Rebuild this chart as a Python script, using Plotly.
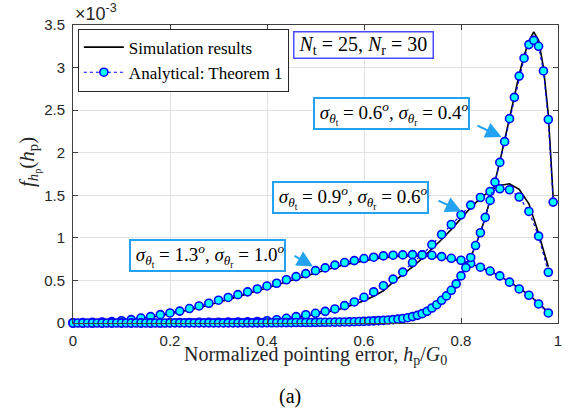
import plotly.graph_objects as go

# x grids
x_coarse = [0.00, 0.02, 0.04, 0.06, 0.08, 0.10, 0.12, 0.14, 0.16, 0.18,
            0.20, 0.22, 0.24, 0.26, 0.28, 0.30, 0.32, 0.34, 0.36, 0.38,
            0.40, 0.42, 0.44, 0.46, 0.48, 0.50, 0.52, 0.54, 0.56, 0.58,
            0.60, 0.62, 0.64, 0.66, 0.68, 0.70, 0.72, 0.74, 0.76, 0.78,
            0.80, 0.82, 0.84, 0.86, 0.88, 0.90, 0.92, 0.94, 0.96, 0.98]
x_fine = [0.00, 0.01, 0.02, 0.03, 0.04, 0.05, 0.06, 0.07, 0.08, 0.09,
          0.10, 0.11, 0.12, 0.13, 0.14, 0.15, 0.16, 0.17, 0.18, 0.19,
          0.20, 0.21, 0.22, 0.23, 0.24, 0.25, 0.26, 0.27, 0.28, 0.29,
          0.30, 0.31, 0.32, 0.33, 0.34, 0.35, 0.36, 0.37, 0.38, 0.39,
          0.40, 0.41, 0.42, 0.43, 0.44, 0.45, 0.46, 0.47, 0.48, 0.49,
          0.50, 0.51, 0.52, 0.53, 0.54, 0.55, 0.56, 0.57, 0.58, 0.59,
          0.60, 0.61, 0.62, 0.63, 0.64, 0.65, 0.66, 0.67, 0.68, 0.69,
          0.70, 0.71, 0.72, 0.73, 0.74, 0.75, 0.76, 0.77, 0.78, 0.79,
          0.80, 0.81, 0.82, 0.83, 0.84, 0.85, 0.86, 0.87, 0.88, 0.89,
          0.90, 0.91, 0.92, 0.93, 0.94, 0.95, 0.96, 0.97, 0.98, 0.99]

# values in units of 1e-3
# sigma_t = 1.3, sigma_r = 1.0
broad_ana = [0.003, 0.005, 0.008, 0.012, 0.017, 0.027, 0.040, 0.058, 0.075, 0.098,
             0.118, 0.140, 0.170, 0.200, 0.232, 0.268, 0.300, 0.333, 0.366, 0.400,
             0.435, 0.467, 0.508, 0.545, 0.580, 0.615, 0.647, 0.680, 0.710, 0.733,
             0.757, 0.773, 0.788, 0.796, 0.800, 0.803, 0.800, 0.795, 0.780, 0.760,
             0.737, 0.700, 0.655, 0.610, 0.553, 0.480, 0.400, 0.326, 0.224, 0.118]
broad_sim = [0.015, 0.016, 0.018, 0.021, 0.026, 0.033, 0.043, 0.055, 0.070, 0.087,
             0.107, 0.128, 0.153, 0.180, 0.210, 0.243, 0.276, 0.310, 0.345, 0.380,
             0.415, 0.450, 0.487, 0.522, 0.557, 0.592, 0.625, 0.656, 0.685, 0.710,
             0.733, 0.752, 0.768, 0.780, 0.787, 0.790, 0.788, 0.782, 0.770, 0.752,
             0.728, 0.695, 0.655, 0.608, 0.552, 0.485, 0.410, 0.330, 0.235, 0.125]
# sigma_t = 0.9, sigma_r = 0.6
mid_ana = [0.000, 0.000, 0.000, 0.000, 0.001, 0.001, 0.001, 0.002, 0.002, 0.003,
           0.004, 0.005, 0.006, 0.007, 0.008, 0.009, 0.010, 0.012, 0.014, 0.018,
           0.027, 0.039, 0.055, 0.075, 0.097, 0.114, 0.137, 0.165, 0.204, 0.247,
           0.302, 0.365, 0.438, 0.515, 0.598, 0.710, 0.800, 0.920, 1.040, 1.157,
           1.270, 1.385, 1.474, 1.545, 1.576, 1.565, 1.480, 1.310, 1.020, 0.596]
mid_sim = [0.000, 0.000, 0.000, 0.000, 0.001, 0.001, 0.001, 0.002, 0.002, 0.003,
           0.004, 0.005, 0.006, 0.007, 0.008, 0.009, 0.010, 0.012, 0.014, 0.017,
           0.025, 0.035, 0.048, 0.063, 0.080, 0.100, 0.122, 0.148, 0.180, 0.218,
           0.262, 0.315, 0.378, 0.480, 0.565, 0.660, 0.760, 0.865, 0.980, 1.100,
           1.225, 1.355, 1.465, 1.555, 1.615, 1.635, 1.570, 1.400, 1.050, 0.660]
# sigma_t = 0.6, sigma_r = 0.4
narrow_ana = [0.000, 0.000, 0.000, 0.000, 0.000, 0.000, 0.000, 0.000, 0.000, 0.000,
              0.000, 0.000, 0.000, 0.000, 0.000, 0.000, 0.000, 0.000, 0.000, 0.000,
              0.001, 0.001, 0.001, 0.001, 0.001, 0.001, 0.001, 0.001, 0.001, 0.001,
              0.001, 0.001, 0.001, 0.001, 0.001, 0.002, 0.002, 0.002, 0.002, 0.002,
              0.003, 0.003, 0.003, 0.004, 0.004, 0.004, 0.005, 0.005, 0.006, 0.006,
              0.007, 0.008, 0.008, 0.009, 0.010, 0.011, 0.012, 0.013, 0.015, 0.017,
              0.019, 0.022, 0.025, 0.028, 0.031, 0.035, 0.040, 0.045, 0.052, 0.062,
              0.075, 0.090, 0.110, 0.137, 0.176, 0.215, 0.267, 0.318, 0.384, 0.460,
              0.553, 0.650, 0.770, 0.910, 1.060, 1.240, 1.440, 1.655, 1.886, 2.130,
              2.400, 2.650, 2.900, 3.110, 3.270, 3.320, 3.250, 2.960, 2.390, 1.420]
narrow_sim = [0.000, 0.000, 0.000, 0.000, 0.000, 0.000, 0.000, 0.000, 0.000, 0.000,
              0.000, 0.000, 0.000, 0.000, 0.000, 0.000, 0.000, 0.000, 0.000, 0.000,
              0.001, 0.001, 0.001, 0.001, 0.001, 0.001, 0.001, 0.001, 0.001, 0.001,
              0.001, 0.001, 0.001, 0.001, 0.001, 0.002, 0.002, 0.002, 0.002, 0.002,
              0.003, 0.003, 0.003, 0.004, 0.004, 0.004, 0.005, 0.005, 0.006, 0.006,
              0.007, 0.007, 0.008, 0.008, 0.009, 0.010, 0.011, 0.012, 0.013, 0.014,
              0.015, 0.018, 0.021, 0.024, 0.028, 0.032, 0.037, 0.043, 0.050, 0.060,
              0.073, 0.088, 0.108, 0.135, 0.172, 0.212, 0.262, 0.315, 0.380, 0.458,
              0.550, 0.648, 0.768, 0.908, 1.060, 1.240, 1.445, 1.660, 1.895, 2.140,
              2.400, 2.660, 2.920, 3.140, 3.310, 3.420, 3.320, 3.000, 2.450, 1.480]

x_ticks = [0, 0.2, 0.4, 0.6, 0.8, 1]
x_ticklabels = ["0", "0.2", "0.4", "0.6", "0.8", "1"]
y_ticks = [0, 0.5, 1, 1.5, 2, 2.5, 3, 3.5]
y_ticklabels = ["0", "0.5", "1", "1.5", "2", "2.5", "3", "3.5"]

SERIF = "Liberation Serif"
SANS = "Liberation Sans"
BOXBLUE = "#22a2f0"

W, H = 575, 409
# plot area in window pixels
PX0, PX1, PY0, PY1 = 73, 558, 25, 323
L, R, T, B = PX0, W - PX1, PY0, H - PY1

fig = go.Figure()

sims = [(x_coarse, broad_sim), (x_coarse, mid_sim), (x_fine, narrow_sim)]
anas = [(x_coarse, broad_ana), (x_coarse, mid_ana), (x_fine, narrow_ana)]

for i, (xx, yy) in enumerate(sims):
    fig.add_trace(go.Scatter(
        x=xx, y=yy, mode="lines", name="Simulation results",
        line=dict(color="black", width=1.6),
        showlegend=(i == 0), cliponaxis=False))
for i, (xx, yy) in enumerate(anas):
    fig.add_trace(go.Scatter(
        x=xx, y=yy, mode="lines+markers", name="Analytical: Theorem 1",
        line=dict(color="blue", width=1.2, dash="dot"),
        marker=dict(size=8, color="#00ffff", line=dict(color="blue", width=1.6)),
        showlegend=(i == 0), cliponaxis=False))

axis_common = dict(
    showline=True, linecolor="#404040", linewidth=1, mirror="ticks",
    ticks="inside", ticklen=5, tickcolor="#404040",
    showgrid=True, gridcolor="#e2e2e2", gridwidth=1, zeroline=False,
    tickfont=dict(family=SANS, size=15, color="#262626"),
)
fig.update_xaxes(range=[0, 1], tickvals=x_ticks, ticktext=x_ticklabels,
                 ticklabelstandoff=4, **axis_common)
fig.update_yaxes(range=[0, 3.5], tickvals=y_ticks, ticktext=y_ticklabels,
                 ticklabelstandoff=4, **axis_common)


def dx(px):
    return (px - PX0) / (PX1 - PX0)


def dy(py):
    return (PY1 - py) / (PY1 - PY0) * 3.5


def paper_x(px):
    return (px - PX0) / (PX1 - PX0)


def paper_y(py):
    return (PY1 - py) / (PY1 - PY0)


annotations = []
sig = "<i>σ</i><sub><i>θ</i><sub>{s}</sub></sub>"
boxes = [
    ("&nbsp;<i>N</i><sub>t</sub> = 25, <i>N</i><sub>r</sub> = 30&nbsp;", 363, 44.5, "#4a4aff", 1.5, 20),
    ("&nbsp;" + sig.format(s="t") + " = 0.6<sup><i>o</i></sup>, " + sig.format(s="r") + " = 0.4<sup><i>o</i></sup>", 391.5, 113, BOXBLUE, 2, 19),
    ("&nbsp;" + sig.format(s="t") + " = 0.9<sup><i>o</i></sup>, " + sig.format(s="r") + " = 0.6<sup><i>o</i></sup>", 350, 197.5, BOXBLUE, 2, 19),
    ("&nbsp;" + sig.format(s="t") + " = 1.3<sup><i>o</i></sup>, " + sig.format(s="r") + " = 1.0<sup><i>o</i></sup>", 207, 255, BOXBLUE, 2, 19),
]
for txt, cx, cy, col, bw, fs in boxes:
    annotations.append(dict(
        text=txt, x=dx(cx), y=dy(cy), xref="x", yref="y",
        showarrow=False, xanchor="center", yanchor="middle",
        font=dict(family=SERIF, size=fs, color="black"),
        bgcolor="white", bordercolor=col, borderwidth=bw, borderpad=0))

arrows = [((476, 125), (501.5, 137)),
          ((437, 200), (461.5, 211.5)),
          ((293, 255), (313, 266.5))]
for (tx, ty), (hx, hy) in arrows:
    annotations.append(dict(
        text="", x=dx(hx), y=dy(hy), xref="x", yref="y",
        ax=dx(tx), ay=dy(ty), axref="x", ayref="y",
        showarrow=True, arrowhead=2, arrowsize=1.6, arrowwidth=2,
        arrowcolor=BOXBLUE, standoff=0))

# x10^-3
annotations.append(dict(
    text="×10<sup>-3</sup>", x=paper_x(73), y=paper_y(26), xref="paper", yref="paper",
    showarrow=False, xanchor="left", yanchor="bottom",
    font=dict(family=SANS, size=18, color="#262626")))
# axis titles
annotations.append(dict(
    text="Normalized pointing error, <i>h</i><sub>p</sub>/<i>G</i><sub>0</sub>",
    x=paper_x(315.5), y=paper_y(355), xref="paper", yref="paper", showarrow=False,
    xanchor="center", yanchor="middle",
    font=dict(family=SERIF, size=20, color="#262626")))
annotations.append(dict(
    text="<i>f</i><sub><i>h</i><sub>p</sub></sub>(<i>h</i><sub>p</sub>)",
    x=paper_x(29), y=paper_y(162), xref="paper", yref="paper", showarrow=False,
    textangle=-90, xanchor="center", yanchor="middle",
    font=dict(family=SERIF, size=21, color="#262626")))
annotations.append(dict(
    text="(a)", x=paper_x(290), y=paper_y(396), xref="paper", yref="paper", showarrow=False,
    xanchor="center", yanchor="middle",
    font=dict(family=SERIF, size=20, color="black")))

fig.update_layout(
    width=W, height=H,
    margin=dict(l=L, r=R, t=T, b=B),
    paper_bgcolor="white", plot_bgcolor="white",
    annotations=annotations,
    legend=dict(x=0.01, y=0.988, xanchor="left", yanchor="top",
                bgcolor="white", bordercolor="#262626", borderwidth=1,
                font=dict(family=SERIF, size=17, color="black"),
                tracegroupgap=0, itemwidth=40),
)

fig.write_html("out.html",
               config={"displayModeBar": False},
               post_script="document.body.style.margin='0px';"
                           "document.body.style.padding='0px';"
                           "document.body.style.overflow='hidden';")
